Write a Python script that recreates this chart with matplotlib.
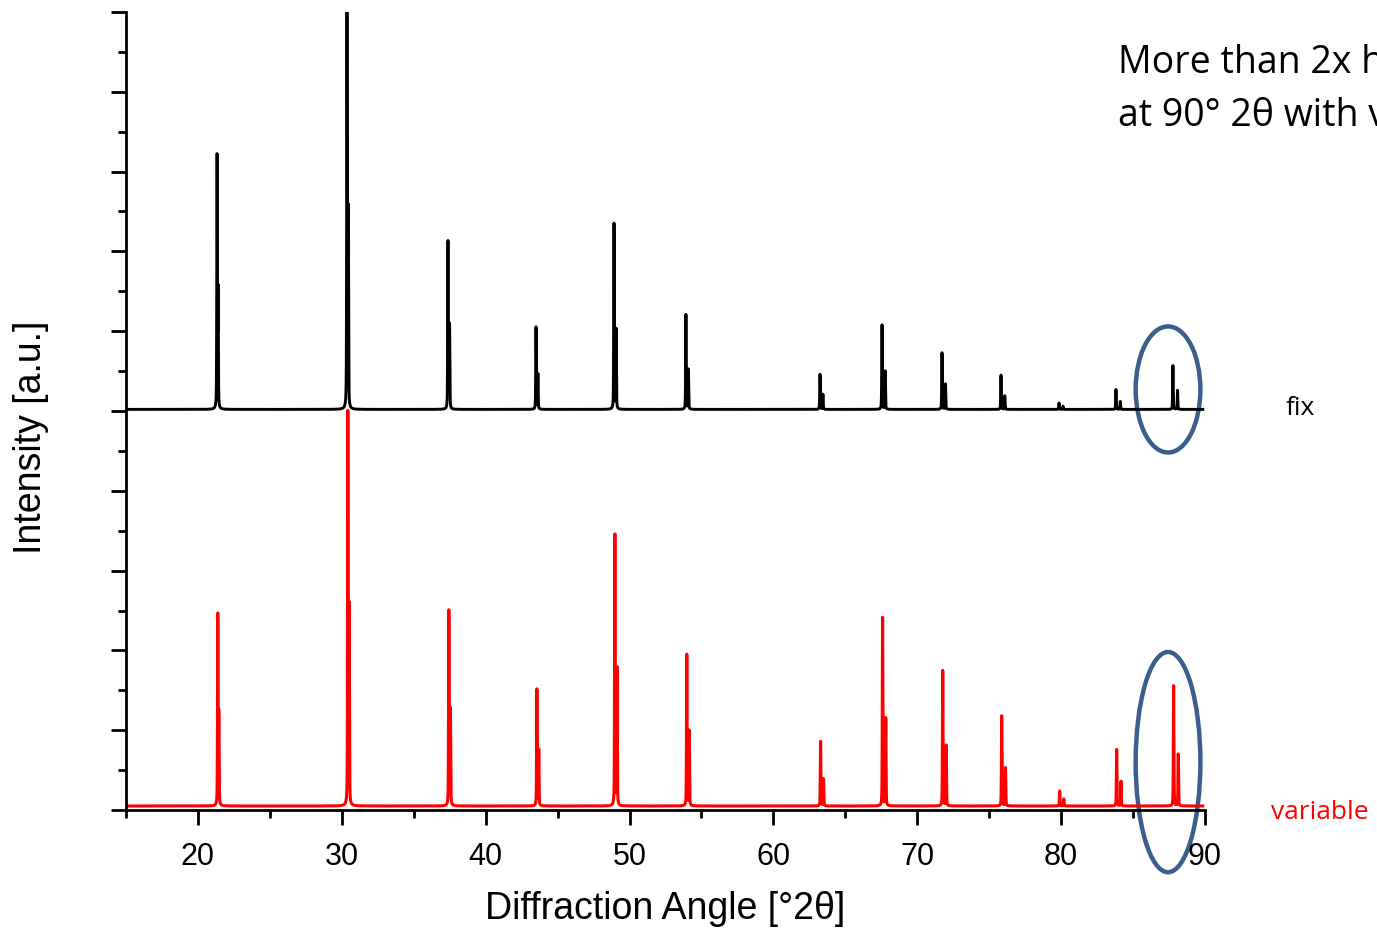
import numpy as np
import matplotlib
matplotlib.use("Agg")
import matplotlib.pyplot as plt
from matplotlib.patches import Ellipse
from matplotlib.ticker import MultipleLocator

# ---- data ----
peak_pos_fix = [21.33, 30.36, 37.38, 43.50, 48.92, 53.92, 63.24, 67.55, 71.72, 75.82, 79.85, 83.81, 87.77]
peak_pos_var = [21.38, 30.42, 37.44, 43.56, 48.98, 53.98, 63.28, 67.59, 71.77, 75.87, 79.90, 83.86, 87.82]
ka2_shift = [0.07, 0.09, 0.11, 0.13, 0.15, 0.17, 0.20, 0.22, 0.24, 0.26, 0.28, 0.30, 0.32]
height_fix = [3.15, 5.40, 2.10, 1.03, 2.33, 1.19, 0.44, 1.06, 0.71, 0.43, 0.08, 0.25, 0.55]
height_fix_ka2 = [1.45, 2.45, 1.05, 0.44, 1.00, 0.50, 0.19, 0.48, 0.32, 0.17, 0.04, 0.10, 0.24]
height_var = [2.38, 4.90, 2.44, 1.46, 3.40, 1.90, 0.81, 2.36, 1.70, 1.13, 0.19, 0.71, 1.51]
height_var_ka2 = [1.12, 2.45, 1.20, 0.70, 1.72, 0.94, 0.34, 1.10, 0.76, 0.48, 0.09, 0.31, 0.65]
offset_fix = 5.02
offset_var = 0.05
fwhm = 0.045

x_ticks = [20, 30, 40, 50, 60, 70, 80, 90]


def pattern(x, pos, h1, h2, shifts, base):
    y = np.full_like(x, base)
    for p, a, b, s in zip(pos, h1, h2, shifts):
        for c, amp in ((p, a), (p + s, b)):
            g = np.exp(-4 * np.log(2) * ((x - c) / fwhm) ** 2)
            l = 1.0 / (1.0 + 4 * ((x - c) / fwhm) ** 2)
            y += amp * (0.6 * g + 0.4 * l)
    return y


x = np.arange(15.0, 89.85, 0.003)
y_fix = pattern(x, peak_pos_fix, height_fix, height_fix_ka2, ka2_shift, offset_fix)
y_var = pattern(x, peak_pos_var, height_var, height_var_ka2, ka2_shift, offset_var)

W, H, DPI = 1377, 933, 100
fig = plt.figure(figsize=(W / DPI, H / DPI), dpi=DPI)
ax = fig.add_axes([126 / W, 1 - 810 / H, (1205 - 126) / W, (810 - 12) / H])

ax.plot(x, y_fix, color="black", lw=2.1)
ax.plot(x, y_var, color="#ff0000", lw=2.2)

ax.set_xlim(15, 90)
ax.set_ylim(0, 10)
ax.set_xticks(x_ticks)
ax.xaxis.set_minor_locator(MultipleLocator(5))
ax.yaxis.set_major_locator(MultipleLocator(1))
ax.yaxis.set_minor_locator(MultipleLocator(0.5))
ax.set_yticklabels([])
for s in ("top", "right"):
    ax.spines[s].set_visible(False)
for s in ("left", "bottom"):
    ax.spines[s].set_linewidth(2.0)
ax.tick_params(which="major", length=11, width=2.0, direction="out")
ax.tick_params(which="minor", length=6, width=2.0, direction="out")
ax.tick_params(axis="x", which="major", labelsize=22, pad=12)
for lab in ax.get_xticklabels():
    lab.set_fontfamily("Liberation Sans")

ax.set_xlabel("Diffraction Angle [°2θ]", fontsize=27, family="Liberation Sans")
ax.set_ylabel("Intensity [a.u.]", fontsize=27, family="Liberation Sans")
ax.xaxis.set_label_coords(0.4995, -0.102)
ax.yaxis.set_label_coords(-0.071, 0.467)

# ellipses highlighting the peaks at ~88°
ell_col = "#3b5f8d"
ax.add_patch(Ellipse((87.43, 5.27), 4.5, 1.58, fill=False, ec=ell_col, lw=3.2, clip_on=False))
ax.add_patch(Ellipse((87.43, 0.60), 4.5, 2.76, fill=False, ec=ell_col, lw=3.2, clip_on=False))

fig.text(1118 / W, 1 - 73 / H, "More than 2x h", fontsize=27, family="Open Sans", va="baseline")
fig.text(1118 / W, 1 - 126 / H, "at 90° 2θ with v", fontsize=27, family="Open Sans", va="baseline")
fig.text(1286 / W, 1 - 415 / H, "fix", fontsize=19, family="Open Sans", va="baseline")
fig.text(1271 / W, 1 - 819 / H, "variable", fontsize=19, family="Open Sans", va="baseline", color="#ff0000")

fig.savefig("out.png", dpi=DPI)
